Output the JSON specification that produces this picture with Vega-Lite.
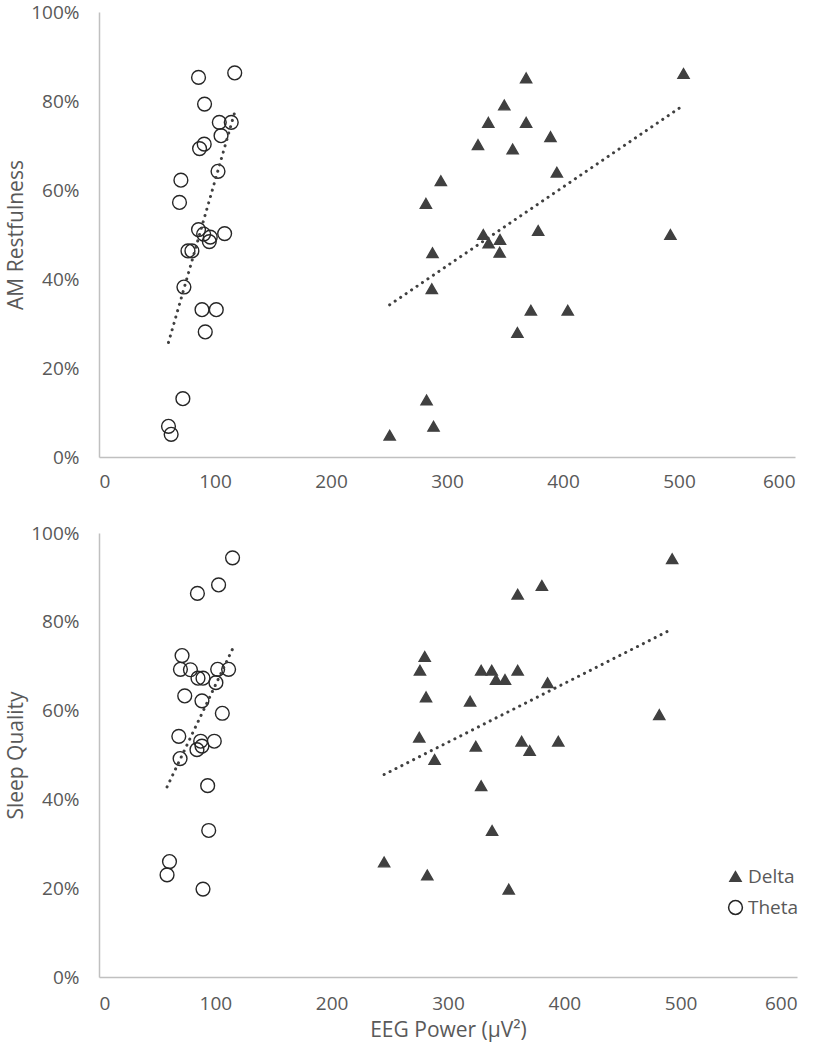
{
  "$schema": "https://vega.github.io/schema/vega-lite/v6.json",
  "background": "white",
  "padding": {"left": 5, "top": 3, "right": 5, "bottom": 6},
  "spacing": 33,
  "config": {
    "view": {"stroke": null},
    "font": "Open Sans",
    "axis": {
      "domainColor": "#c0c0c0",
      "domainWidth": 1.5,
      "ticks": false,
      "grid": false,
      "labelColor": "#595959",
      "labelFontSize": 19,
      "labelFont": "Open Sans",
      "titleColor": "#595959",
      "titleFontSize": 21,
      "titleFontWeight": "normal",
      "titleFont": "Open Sans"
    },
    "legend": {"labelFont": "Open Sans"}
  },
  "datasets": {
    "rest": [
      {"series": "Theta", "power": 85.8, "value": 0.853},
      {"series": "Theta", "power": 117, "value": 0.863},
      {"series": "Theta", "power": 91, "value": 0.793},
      {"series": "Theta", "power": 103.7, "value": 0.752},
      {"series": "Theta", "power": 114, "value": 0.752},
      {"series": "Theta", "power": 105.2, "value": 0.722},
      {"series": "Theta", "power": 90.7, "value": 0.703},
      {"series": "Theta", "power": 86.7, "value": 0.693},
      {"series": "Theta", "power": 102.6, "value": 0.642},
      {"series": "Theta", "power": 70.6, "value": 0.622},
      {"series": "Theta", "power": 69.4, "value": 0.572},
      {"series": "Theta", "power": 85.8, "value": 0.511},
      {"series": "Theta", "power": 108.3, "value": 0.502},
      {"series": "Theta", "power": 90.2, "value": 0.501},
      {"series": "Theta", "power": 95.9, "value": 0.494},
      {"series": "Theta", "power": 95.1, "value": 0.484},
      {"series": "Theta", "power": 76.7, "value": 0.463},
      {"series": "Theta", "power": 80.1, "value": 0.463},
      {"series": "Theta", "power": 73.2, "value": 0.382},
      {"series": "Theta", "power": 88.8, "value": 0.331},
      {"series": "Theta", "power": 101.1, "value": 0.331},
      {"series": "Theta", "power": 91.6, "value": 0.281},
      {"series": "Theta", "power": 72.3, "value": 0.131},
      {"series": "Theta", "power": 59.9, "value": 0.069},
      {"series": "Theta", "power": 62.2, "value": 0.051},
      {"series": "Delta", "power": 368.2, "value": 0.852},
      {"series": "Delta", "power": 503.9, "value": 0.862},
      {"series": "Delta", "power": 349.4, "value": 0.791},
      {"series": "Delta", "power": 335.6, "value": 0.752},
      {"series": "Delta", "power": 368.2, "value": 0.752},
      {"series": "Delta", "power": 389.2, "value": 0.72},
      {"series": "Delta", "power": 326.7, "value": 0.702},
      {"series": "Delta", "power": 356.6, "value": 0.692},
      {"series": "Delta", "power": 394.7, "value": 0.64},
      {"series": "Delta", "power": 294.7, "value": 0.621},
      {"series": "Delta", "power": 281.8, "value": 0.57},
      {"series": "Delta", "power": 378.6, "value": 0.509},
      {"series": "Delta", "power": 492.6, "value": 0.5},
      {"series": "Delta", "power": 331.3, "value": 0.5},
      {"series": "Delta", "power": 345.7, "value": 0.489},
      {"series": "Delta", "power": 335.9, "value": 0.481},
      {"series": "Delta", "power": 345.4, "value": 0.46},
      {"series": "Delta", "power": 287.5, "value": 0.459},
      {"series": "Delta", "power": 286.9, "value": 0.378},
      {"series": "Delta", "power": 372.3, "value": 0.33},
      {"series": "Delta", "power": 404.1, "value": 0.33},
      {"series": "Delta", "power": 360.7, "value": 0.28},
      {"series": "Delta", "power": 282.4, "value": 0.128},
      {"series": "Delta", "power": 288.4, "value": 0.069},
      {"series": "Delta", "power": 250.6, "value": 0.049}
    ],
    "sleep": [
      {"series": "Theta", "power": 114.8, "value": 0.944},
      {"series": "Theta", "power": 102.8, "value": 0.883},
      {"series": "Theta", "power": 84.6, "value": 0.864},
      {"series": "Theta", "power": 71.4, "value": 0.724},
      {"series": "Theta", "power": 70, "value": 0.693},
      {"series": "Theta", "power": 78.6, "value": 0.692},
      {"series": "Theta", "power": 85.1, "value": 0.673},
      {"series": "Theta", "power": 89.4, "value": 0.673},
      {"series": "Theta", "power": 102, "value": 0.693},
      {"series": "Theta", "power": 111.4, "value": 0.693},
      {"series": "Theta", "power": 100.5, "value": 0.663},
      {"series": "Theta", "power": 73.7, "value": 0.633},
      {"series": "Theta", "power": 88.5, "value": 0.622},
      {"series": "Theta", "power": 106, "value": 0.594},
      {"series": "Theta", "power": 68.6, "value": 0.542},
      {"series": "Theta", "power": 87.4, "value": 0.531},
      {"series": "Theta", "power": 99.1, "value": 0.531},
      {"series": "Theta", "power": 88.5, "value": 0.52},
      {"series": "Theta", "power": 84.2, "value": 0.512},
      {"series": "Theta", "power": 69.7, "value": 0.492},
      {"series": "Theta", "power": 93.4, "value": 0.431},
      {"series": "Theta", "power": 94.3, "value": 0.33},
      {"series": "Theta", "power": 60.6, "value": 0.26},
      {"series": "Theta", "power": 58.5, "value": 0.23},
      {"series": "Theta", "power": 89.4, "value": 0.198},
      {"series": "Delta", "power": 359.9, "value": 0.862},
      {"series": "Delta", "power": 280, "value": 0.722},
      {"series": "Delta", "power": 275.9, "value": 0.691},
      {"series": "Delta", "power": 328.5, "value": 0.691},
      {"series": "Delta", "power": 337.6, "value": 0.691},
      {"series": "Delta", "power": 359.9, "value": 0.691},
      {"series": "Delta", "power": 341.3, "value": 0.67},
      {"series": "Delta", "power": 349, "value": 0.67},
      {"series": "Delta", "power": 281.1, "value": 0.631},
      {"series": "Delta", "power": 319, "value": 0.621},
      {"series": "Delta", "power": 275.3, "value": 0.54},
      {"series": "Delta", "power": 323.9, "value": 0.52},
      {"series": "Delta", "power": 363.3, "value": 0.531},
      {"series": "Delta", "power": 492.7, "value": 0.942},
      {"series": "Delta", "power": 380.7, "value": 0.882},
      {"series": "Delta", "power": 385.6, "value": 0.663},
      {"series": "Delta", "power": 481.6, "value": 0.591},
      {"series": "Delta", "power": 370.2, "value": 0.51},
      {"series": "Delta", "power": 394.8, "value": 0.531},
      {"series": "Delta", "power": 328.5, "value": 0.431},
      {"series": "Delta", "power": 337.9, "value": 0.33},
      {"series": "Delta", "power": 352.2, "value": 0.198},
      {"series": "Delta", "power": 245.1, "value": 0.259},
      {"series": "Delta", "power": 282.2, "value": 0.23},
      {"series": "Delta", "power": 288.5, "value": 0.49}
    ]
  },
  "resolve": {"legend": {"shape": "independent", "fill": "independent", "stroke": "independent", "size": "independent"}},
  "vconcat": [
    {
      "width": 696,
      "height": 445,
      "data": {"name": "rest"},
      "encoding": {
        "x": {"field": "power", "type": "quantitative", "scale": {"domain": [0, 600], "nice": false},
              "axis": {"values": [0, 100, 200, 300, 400, 500, 600], "title": null, "labelPadding": 15}},
        "y": {"field": "value", "type": "quantitative", "scale": {"domain": [0, 1], "nice": false},
              "axis": {"values": [0, 0.2, 0.4, 0.6, 0.8, 1], "format": ".0%", "title": "AM Restfulness", "labelPadding": 20, "titlePadding": 4}}
      },
      "layer": [
        {
          "mark": {"type": "point", "filled": false, "strokeWidth": 1.4, "opacity": 1},
          "encoding": {
            "shape": {"field": "series", "type": "nominal", "scale": {"domain": ["Delta", "Theta"], "range": ["triangle-up", "circle"]}, "legend": null},
            "fill": {"field": "series", "type": "nominal", "scale": {"domain": ["Delta", "Theta"], "range": ["#404040", "transparent"]}, "legend": null},
            "stroke": {"field": "series", "type": "nominal", "scale": {"domain": ["Delta", "Theta"], "range": ["#404040", "#262626"]}, "legend": null},
            "size": {"field": "series", "type": "nominal", "scale": {"domain": ["Delta", "Theta"], "range": [125, 190]}, "legend": null}
          }
        },
        {
          "transform": [{"regression": "value", "on": "power", "groupby": ["series"]}],
          "mark": {"type": "line", "color": "#404040", "strokeWidth": 3, "strokeDash": [0.1, 6.5], "strokeCap": "round"},
          "encoding": {"detail": {"field": "series", "type": "nominal"}}
        }
      ]
    },
    {
      "width": 698,
      "height": 444,
      "data": {"name": "sleep"},
      "encoding": {
        "x": {"field": "power", "type": "quantitative", "scale": {"domain": [0, 600], "nice": false},
              "axis": {"values": [0, 100, 200, 300, 400, 500, 600], "title": "EEG Power (μV²)", "labelPadding": 17, "titlePadding": 6}},
        "y": {"field": "value", "type": "quantitative", "scale": {"domain": [0, 1], "nice": false},
              "axis": {"values": [0, 0.2, 0.4, 0.6, 0.8, 1], "format": ".0%", "title": "Sleep Quality", "labelPadding": 20, "titlePadding": 4}}
      },
      "layer": [
        {
          "mark": {"type": "point", "filled": false, "strokeWidth": 1.4, "opacity": 1},
          "encoding": {
            "shape": {"field": "series", "type": "nominal", "scale": {"domain": ["Delta", "Theta"], "range": ["triangle-up", "circle"]},
                      "legend": {"orient": "none", "legendX": 627, "legendY": 334, "title": null, "labelFontSize": 19, "labelColor": "#595959", "rowPadding": 10, "labelOffset": 3}},
            "fill": {"field": "series", "type": "nominal", "scale": {"domain": ["Delta", "Theta"], "range": ["#404040", "transparent"]},
                     "legend": {"orient": "none", "legendX": 627, "legendY": 334, "title": null, "labelFontSize": 19, "labelColor": "#595959", "rowPadding": 10, "labelOffset": 3}},
            "stroke": {"field": "series", "type": "nominal", "scale": {"domain": ["Delta", "Theta"], "range": ["#404040", "#262626"]},
                       "legend": {"orient": "none", "legendX": 627, "legendY": 334, "title": null, "labelFontSize": 19, "labelColor": "#595959", "rowPadding": 10, "labelOffset": 3}},
            "size": {"field": "series", "type": "nominal", "scale": {"domain": ["Delta", "Theta"], "range": [125, 190]},
                     "legend": {"orient": "none", "legendX": 627, "legendY": 334, "title": null, "labelFontSize": 19, "labelColor": "#595959", "rowPadding": 10, "labelOffset": 3}}
          }
        },
        {
          "transform": [{"regression": "value", "on": "power", "groupby": ["series"]}],
          "mark": {"type": "line", "color": "#404040", "strokeWidth": 3, "strokeDash": [0.1, 6.5], "strokeCap": "round"},
          "encoding": {"detail": {"field": "series", "type": "nominal"}}
        }
      ]
    }
  ]
}
